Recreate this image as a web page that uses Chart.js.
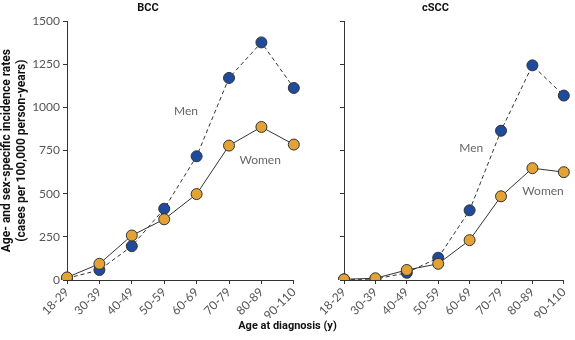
<!DOCTYPE html>
<html>
<head>
<meta charset="utf-8">
<script src="https://cdn.jsdelivr.net/npm/chart.js@4"></script>
<style>
  body { margin: 0; background: #fff; }
  #wrap { position: relative; width: 575px; height: 340px; }
  #left { position: absolute; left: 0; top: 0; }
  #right { position: absolute; left: 300px; top: 0; }
  #xtitle {
    position: absolute; left: 0; width: 575px; top: 319px;
    text-align: center; font: bold 11px Roboto, sans-serif; color: #111;
  }
</style>
</head>
<body>
<div id="wrap">
  <canvas id="left" width="305" height="340"></canvas>
  <canvas id="right" width="275" height="340"></canvas>
  <div id="xtitle">Age at diagnosis (y)</div>
</div>
<script>
const ageGroups = ["18-29", "30-39", "40-49", "50-59", "60-69", "70-79", "80-89", "90-110"];
const yTicks = [0, 250, 500, 750, 1000, 1250, 1500];

const bccMen = [10, 58, 196, 413, 717, 1171, 1377, 1113];
const bccWomen = [15, 94, 258, 352, 498, 779, 887, 785];
const csccMen = [3, 5, 42, 129, 404, 865, 1244, 1069];
const csccWomen = [4, 10, 58, 94, 231, 485, 648, 625];

// label anchors: [category index, value]
const bccLabels = [["Men", 3.67, 981], ["Women", 5.96, 692]];
const csccLabels = [["Men", 4.05, 767], ["Women", 6.34, 513]];

const blue = "#1f4b9c";
const orange = "#e2a235";
const tickFont = { family: "Lato, sans-serif", size: 12 };

const seriesLabels = {
  id: "seriesLabels",
  afterDatasetsDraw(chart, args, opts) {
    const ctx = chart.ctx;
    const x = chart.scales.x, y = chart.scales.y;
    ctx.save();
    ctx.fillStyle = "#666";
    ctx.font = "12px Lato, sans-serif";
    ctx.textAlign = "center";
    ctx.textBaseline = "middle";
    opts.items.forEach(([txt, i, v]) => {
      ctx.fillText(txt, x.getPixelForValue(i), y.getPixelForValue(v));
    });
    ctx.restore();
  }
};

function makeChart(id, title, men, women, labels, showY) {
  return new Chart(document.getElementById(id), {
    type: "line",
    data: {
      labels: ageGroups,
      datasets: [
        {
          label: "Women",
          data: women,
          borderColor: "#333",
          borderWidth: 1,
          backgroundColor: orange,
          pointBackgroundColor: orange,
          pointBorderColor: "#333",
          pointBorderWidth: 1,
          pointRadius: 5.5,
          tension: 0
        },
        {
          label: "Men",
          data: men,
          borderColor: "#333",
          borderWidth: 1,
          borderDash: [4, 3],
          backgroundColor: blue,
          pointBackgroundColor: blue,
          pointBorderColor: "#333",
          pointBorderWidth: 1,
          pointRadius: 5.5,
          tension: 0
        }
      ]
    },
    options: {
      responsive: false,
      animation: false,
      layout: { padding: { left: 0, right: showY ? 9 : 4, top: 0, bottom: 22 } },
      plugins: {
        legend: { display: false },
        tooltip: { enabled: false },
        title: {
          display: true,
          text: title,
          color: "#111",
          font: { family: "Roboto, sans-serif", size: 11, weight: "bold" },
          padding: { top: 2, bottom: 6 }
        },
        seriesLabels: { items: labels }
      },
      scales: {
        x: {
          offset: false,
          grid: { drawOnChartArea: false, drawTicks: true, tickLength: 4, color: "#333" },
          border: { color: "#333", width: 1 },
          ticks: { color: "#555", font: tickFont, maxRotation: 45, minRotation: 45, autoSkip: false, padding: 1 },
          afterFit: s => { s.height = 38; }
        },
        y: {
          min: 0,
          max: 1500,
          afterBuildTicks: s => { s.ticks = yTicks.map(v => ({ value: v })); },
          grid: { drawOnChartArea: false, drawTicks: true, tickLength: 4, color: "#333" },
          border: { color: "#333", width: 1 },
          ticks: {
            color: "#555",
            font: tickFont,
            padding: 3,
            callback: v => showY ? v : ""
          },
          title: {
            display: showY,
            text: ["Age- and sex-specific incidence rates", "(cases per 100,000 person-years)"],
            color: "#111",
            font: { family: "Roboto, sans-serif", size: 12, weight: "bold" },
            padding: { top: 0, bottom: 2 }
          },
          afterFit: s => { s.width = showY ? 67 : 44; }
        }
      }
    },
    plugins: [seriesLabels]
  });
}

makeChart("left", "BCC", bccMen, bccWomen, bccLabels, true);
makeChart("right", "cSCC", csccMen, csccWomen, csccLabels, false);
</script>
</body>
</html>
